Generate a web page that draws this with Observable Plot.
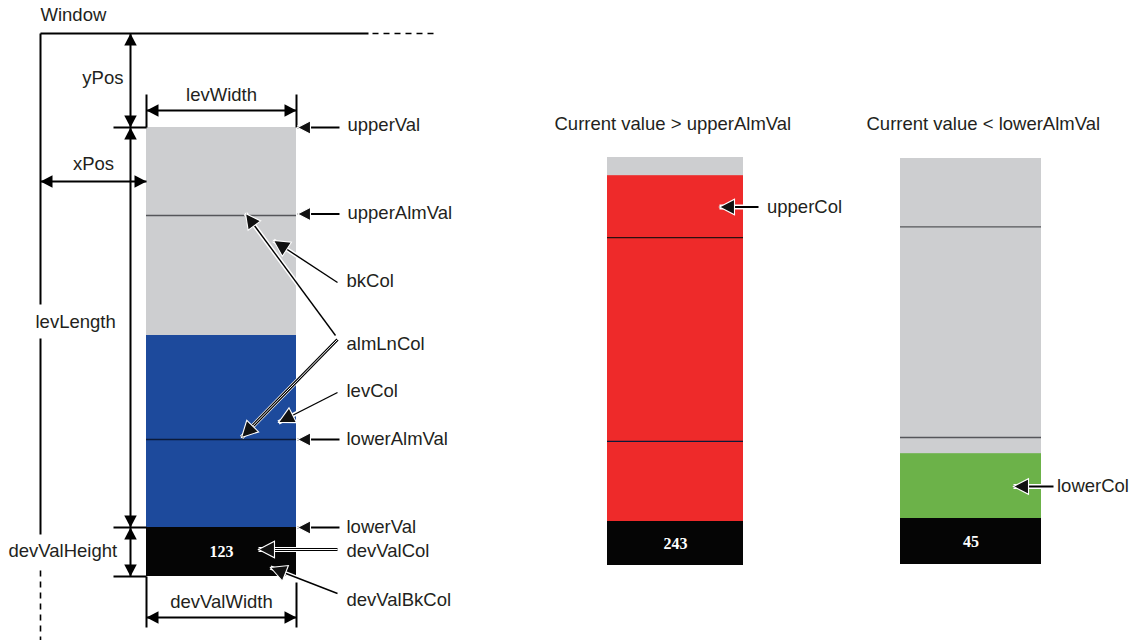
<!DOCTYPE html>
<html><head><meta charset="utf-8">
<script src="https://cdn.jsdelivr.net/npm/d3@7"></script>
<script src="https://cdn.jsdelivr.net/npm/@observablehq/plot@0.6"></script>
<style>html,body{margin:0;padding:0;background:#fff;} #chart{width:1132px;height:640px;}</style>
</head><body><div id="chart"></div>
<script>
// ---------------- data ----------------
const gaugeTitles  = ["", "Current value > upperAlmVal", "Current value < lowerAlmVal"];
const upperVal     = [100, 100, 100];
const lowerVal     = [0, 0, 0];
const upperAlmVal  = [78, 78, 81];
const lowerAlmVal  = [22, 22, 22.5];
const currentVal   = [48, 95, 18];
const devValText   = ["123", "243", "45"];

const annotationText = ["Window", "yPos", "levWidth", "xPos", "upperVal", "upperAlmVal", "bkCol",
  "levLength", "almLnCol", "levCol", "lowerAlmVal", "lowerVal", "devValHeight", "devValCol",
  "devValWidth", "devValBkCol", "upperCol", "lowerCol"];

// ---------------- layout (pixel positions of the diagram) ----------------
const gaugeX1 = [146, 607, 900];
const gaugeX2 = [296, 743, 1041];
const gaugeTop = [127, 157, 158];
const gaugeBottom = [527, 521, 518];
const devBottom = [576, 565, 564];
const titlePos = [[0, 0], [554, 129.3], [866, 129.3]];

const annotationPos = [[40,20,"start"],[123,83,"end"],[221,100,"middle"],[93,169,"middle"],
  [347,130.5,"start"],[347,218.5,"start"],[346,286,"start"],[35,327,"start"],[346,349,"start"],
  [346,396.5,"start"],[346,444,"start"],[346,532.5,"start"],[8,556.5,"start"],[346,556.5,"start"],
  [221,607.5,"middle"],[346,605,"start"],[766.5,212.5,"start"],[1056.5,491.5,"start"]];

// window frame: [x1,y1,x2,y2,dashed]
const frameLines = [[40,33,368,33,false],[372,33,436,33,true],[40,33,40,304,false],[40,338,40,534,false],[40,570,40,640,true]];
// extension lines
const extLines = [[113,127,146,127],[113,527,146,527],[113,576,146,576],[146,94,146,127],[296,94,296,127],[146,576,146,627],[296,582,296,627]];
// dimension arrows (heads at both ends)
const dimArrows = [[130,33,130,127],[130,127,130,527],[130,527,130,576],[40,181,146,181],[146,110,296,110],[146,617,296,617]];
// pointer arrows: [fromX, fromY, tipX, tipY, headLen, shaftWidth, double]
const pointerArrows = [
  [339,127,297,127,13,2,false],
  [339,213.5,297,213.5,13,2,false],
  [339,439,297,439,13,2,false],
  [339,527,297,527,13,2,false],
  [337,549,258,549,16,2,true],
  [337,282,273,240,16,1.4,false],
  [335,335,245,213,15,1.4,false],
  [337,339,241,437,16,1.4,true],
  [337,392,278,422,16,1.4,false],
  [337,593,270,567,16,1.4,false],
  [758,206.5,719,206.5,15,2,false],
  [1053,486,1013,486,15,2,false]
];

const COLORS = {bk: "#cdced0", lev: "#1d4a9c", upper: "#ee2a2a", lower: "#6cb249", devBk: "#050505", ink: "#231f20"};

// ---------------- derived tables ----------------
const gauges = gaugeTitles.map((t, i) => {
  const yOf = d3.scaleLinear().domain([lowerVal[i], upperVal[i]]).range([gaugeBottom[i], gaugeTop[i]]);
  const cur = currentVal[i];
  const col = cur > upperAlmVal[i] ? COLORS.upper : cur < lowerAlmVal[i] ? COLORS.lower : COLORS.lev;
  return {i, title: t, x1: gaugeX1[i], x2: gaugeX2[i], top: gaugeTop[i], bottom: gaugeBottom[i],
    devBottom: devBottom[i], levY: yOf(cur), upAlmY: yOf(upperAlmVal[i]), loAlmY: yOf(lowerAlmVal[i]),
    col, dev: devValText[i], tx: titlePos[i][0], ty: titlePos[i][1]};
});
const alarmLines = gauges.flatMap(g => [
  {x1: g.x1, x2: g.x2, y: g.upAlmY, stroke: g.upAlmY < g.levY ? "#55565a" : "#2a1010"},
  {x1: g.x1, x2: g.x2, y: g.loAlmY, stroke: g.loAlmY < g.levY ? "#55565a" : "#0b1a3a"}
]);
const labels = annotationText.map((t, i) => ({t, x: annotationPos[i][0], y: annotationPos[i][1], a: annotationPos[i][2]}));
const frames = frameLines.map(([x1,y1,x2,y2,d]) => ({x1,y1,x2,y2,d}));
const exts = extLines.map(([x1,y1,x2,y2]) => ({x1,y1,x2,y2}));
const deg = (dx, dy) => Math.atan2(dy, dx) * 180 / Math.PI;
const dims = dimArrows.map(([x1,y1,x2,y2]) => ({x1,y1,x2,y2}));
const dimHeads = dims.flatMap(d => [
  {x: d.x1, y: d.y1, r: 12, rot: deg(d.x1 - d.x2, d.y1 - d.y2)},
  {x: d.x2, y: d.y2, r: 12, rot: deg(d.x2 - d.x1, d.y2 - d.y1)}
]);
const ptrs = pointerArrows.map(([x1,y1,x2,y2,L,w,dbl]) => ({x1,y1,x2,y2,L,w,dbl, rot: deg(x2-x1, y2-y1)}));

// arrowhead symbol: tip at origin, pointing along +x
const arrowHead = {
  draw(ctx, size) {
    const L = Math.sqrt(size / Math.PI), W = L * 0.52;
    ctx.moveTo(0, 0); ctx.lineTo(-L, -W); ctx.lineTo(-L, W); ctx.closePath();
  }
};

const FONT = "'Liberation Sans', Arial, Helvetica, sans-serif";
const FS = 18.5;
const labelMark = (anchor) => Plot.text(labels.filter(d => d.a === anchor),
  {x: "x", y: "y", text: "t", textAnchor: anchor, lineAnchor: "bottom", fontSize: FS, fill: COLORS.ink});

const chart = Plot.plot({
  width: 1132, height: 640, margin: 0,
  x: {domain: [0, 1132], axis: null},
  y: {domain: [640, 0], axis: null},
  r: {type: "identity"},
  style: {fontFamily: FONT, background: "white"},
  marks: [
    // window frame
    Plot.link(frames.filter(d => !d.d), {x1: "x1", y1: "y1", x2: "x2", y2: "y2", stroke: "black", strokeWidth: 2}),
    Plot.link(frames.filter(d => d.d), {x1: "x1", y1: "y1", x2: "x2", y2: "y2", stroke: "black", strokeWidth: 1.6, strokeDasharray: "6,5"}),
    // gauges
    Plot.rect(gauges, {x1: "x1", x2: "x2", y1: "top", y2: "bottom", fill: COLORS.bk}),
    Plot.rect(gauges, {x1: "x1", x2: "x2", y1: "levY", y2: "bottom", fill: "col"}),
    Plot.ruleY(alarmLines, {x1: "x1", x2: "x2", y: "y", stroke: "stroke", strokeWidth: 1.3}),
    Plot.rect(gauges, {x1: "x1", x2: "x2", y1: "bottom", y2: "devBottom", fill: COLORS.devBk}),
    Plot.text(gauges, {x: d => (d.x1 + d.x2) / 2, y: d => (d.bottom + d.devBottom) / 2, text: "dev",
      fill: "white", fontFamily: "'Liberation Serif', 'Times New Roman', serif", fontWeight: "bold", fontSize: 16, lineAnchor: "middle"}),
    Plot.text(gauges.filter(g => g.title), {x: "tx", y: "ty", text: "title", textAnchor: "start", lineAnchor: "bottom", fontSize: FS, fill: COLORS.ink}),
    // extension lines + dimension arrows
    Plot.link(exts, {x1: "x1", y1: "y1", x2: "x2", y2: "y2", stroke: "black", strokeWidth: 2}),
    Plot.link(dims, {x1: "x1", y1: "y1", x2: "x2", y2: "y2", stroke: "black", strokeWidth: 2}),
    Plot.dot(dimHeads, {x: "x", y: "y", r: "r", rotate: "rot", symbol: arrowHead, fill: "black", stroke: "none"}),
    // pointer arrows
    Plot.link(ptrs, {x1: "x1", y1: "y1", x2: "x2", y2: "y2", stroke: "white", strokeWidth: d => d.w + 3}),
    Plot.link(ptrs, {x1: "x1", y1: "y1", x2: "x2", y2: "y2", stroke: "black", strokeWidth: d => d.dbl ? 3 : d.w}),
    Plot.link(ptrs.filter(d => d.dbl), {x1: "x1", y1: "y1", x2: "x2", y2: "y2", stroke: "white", strokeWidth: 1}),
    Plot.dot(ptrs, {x: "x2", y: "y2", r: "L", rotate: "rot", symbol: arrowHead, fill: "#111", stroke: "white", strokeWidth: 1.1, strokeLinejoin: "miter"}),
    // labels
    labelMark("start"), labelMark("middle"), labelMark("end")
  ]
});
chart.setAttribute("font-family", FONT);
document.getElementById("chart").appendChild(chart);
</script>
</body></html>
